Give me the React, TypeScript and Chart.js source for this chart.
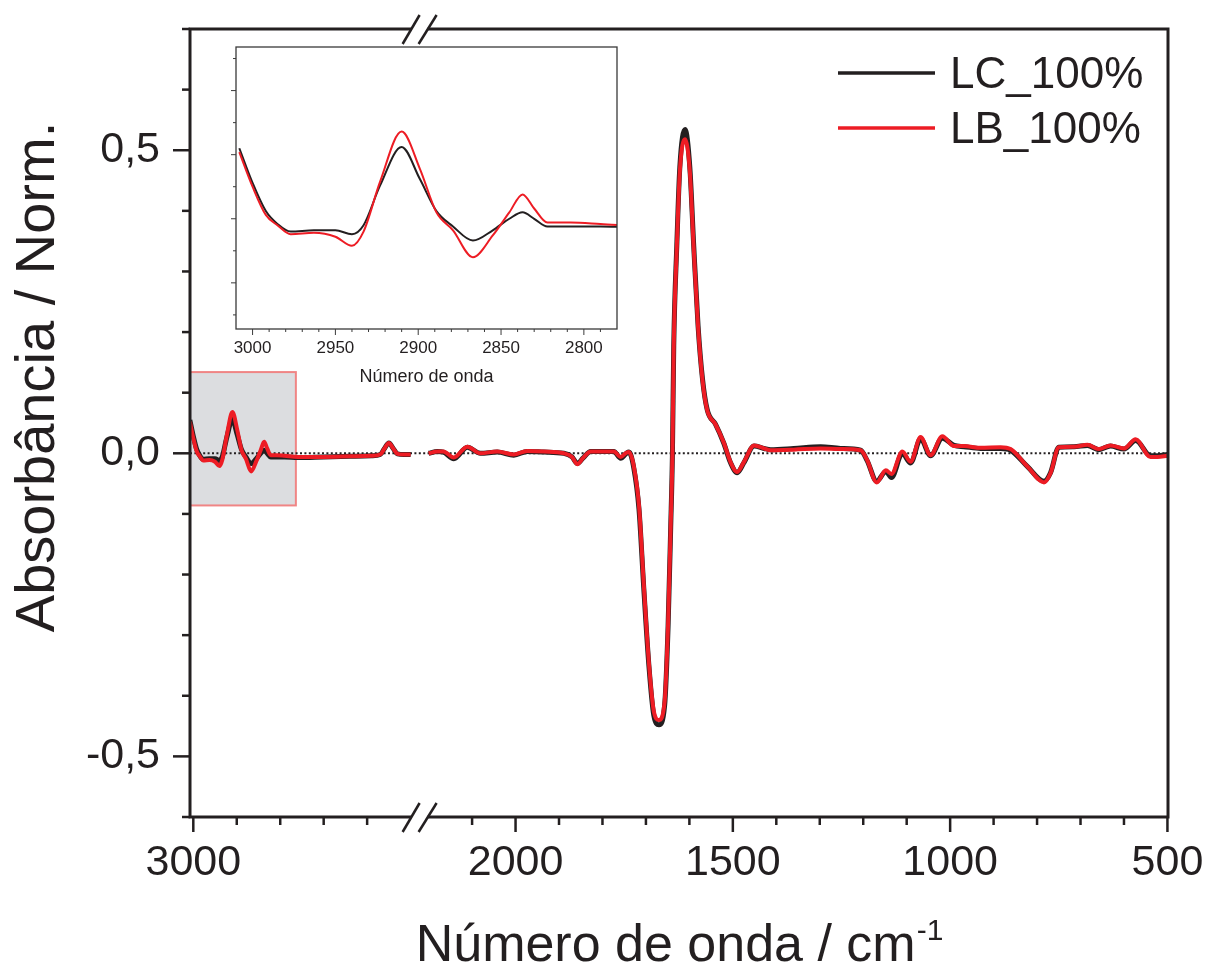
import React, { useEffect, useRef } from 'react';
import { Chart, registerables } from 'chart.js';

Chart.register(...registerables);

// ---------------- data (wavenumber in cm-1, absorbance normalised) ----------------
// high-wavenumber segment (left of the axis break)
const wnLeft = [3008, 3000, 2992, 2985, 2977, 2963, 2950, 2940, 2933, 2923, 2910, 2899, 2889, 2879, 2867, 2855, 2845, 2837, 2830, 2822, 2808, 2790, 2760, 2700, 2640, 2590, 2570, 2560, 2550, 2540, 2530, 2515, 2500];
const lcLeft = [0.055, 0.028, 0.006, -0.004, -0.010, -0.009, -0.009, -0.012, -0.005, 0.026, 0.056, 0.031, 0.006, -0.006, -0.017, -0.009, 0.0, 0.005, 0.0, -0.006, -0.006, -0.006, -0.007, -0.006, -0.005, -0.004, -0.002, 0.008, 0.017, 0.008, -0.001, -0.002, -0.002];
const lbLeft = [0.052, 0.025, 0.003, -0.005, -0.012, -0.011, -0.014, -0.021, -0.010, 0.029, 0.068, 0.039, 0.005, -0.009, -0.030, -0.013, 0.005, 0.019, 0.008, -0.003, -0.003, -0.004, -0.006, -0.006, -0.005, -0.004, -0.002, 0.008, 0.017, 0.008, -0.001, -0.002, -0.002];

// low-wavenumber segment (right of the axis break)
const wnRight = [2200, 2180, 2166, 2142, 2111, 2081, 2042, 2004, 1973, 1935, 1889, 1870, 1858, 1845, 1827, 1774, 1758, 1745, 1739, 1728, 1716, 1705, 1693, 1682, 1670, 1657, 1649, 1643, 1639, 1636, 1629, 1622, 1610, 1599, 1590, 1580, 1570, 1559, 1540, 1521, 1505, 1490, 1475, 1451, 1428, 1413, 1360, 1298, 1252, 1206, 1191, 1169, 1148, 1135, 1110, 1091, 1068, 1045, 1018, 991, 968, 930, 884, 861, 822, 784, 769, 750, 715, 684, 658, 631, 600, 573, 539, 523, 500];
const lcRight = [0, 0.003, 0.002, -0.009, 0.010, 0, 0.002, -0.003, 0.003, 0.002, 0, -0.006, -0.017, -0.008, 0.003, 0.003, -0.008, 0, 0.002, -0.024, -0.092, -0.222, -0.352, -0.432, -0.448, -0.416, -0.285, -0.122, 0, 0.177, 0.342, 0.472, 0.534, 0.472, 0.342, 0.21, 0.124, 0.072, 0.048, 0.017, -0.016, -0.032, -0.016, 0.012, 0.008, 0.006, 0.008, 0.011, 0.008, 0.005, -0.012, -0.046, -0.030, -0.040, 0, -0.016, 0.024, -0.004, 0.025, 0.013, 0.011, 0.008, 0.008, 0.005, -0.022, -0.046, -0.032, 0.010, 0.011, 0.013, 0.006, 0.012, 0.007, 0.021, -0.004, -0.004, -0.002];
const lbRight = [0, 0.003, 0.003, -0.007, 0.011, 0, 0.003, -0.002, 0.004, 0.003, 0, -0.006, -0.018, -0.008, 0.003, 0.003, -0.006, 0.001, 0.002, -0.021, -0.086, -0.216, -0.347, -0.425, -0.440, -0.41, -0.28, -0.119, 0, 0.175, 0.338, 0.465, 0.518, 0.465, 0.338, 0.208, 0.122, 0.071, 0.048, 0.018, -0.015, -0.031, -0.015, 0.013, 0.008, 0.005, 0.006, 0.008, 0.007, 0.005, -0.011, -0.048, -0.028, -0.034, 0.003, -0.014, 0.027, -0.003, 0.028, 0.012, 0.012, 0.009, 0.010, 0.007, -0.022, -0.048, -0.033, 0.010, 0.011, 0.014, 0.007, 0.013, 0.008, 0.023, -0.006, -0.006, -0.004];

const seriesNames = ['LC_100%', 'LB_100%'];
const seriesColors = ['#231f20', '#ed1c24'];

// axis break
const breakHigh = 2500;
const breakLow = 2200;
const breakGap = 41.5;

const xStartWn = 3007.6;
const xEndWn = 498.7;
const xMajorTicks = [3000, 2000, 1500, 1000, 500];
const xMinorTicks = [2900, 2800, 2700, 2600, 2100, 1900, 1800, 1700, 1600, 1400, 1300, 1200, 1100, 900, 800, 700, 600];
const yMin = -0.6;
const yMax = 0.7;
const yMajorTicks = [-0.5, 0, 0.5];
const yTickLabels = ['-0,5', '0,0', '0,5'];
const yMinorTicks = [-0.6, -0.4, -0.3, -0.2, -0.1, 0.1, 0.2, 0.3, 0.4, 0.6, 0.7];

const zoomBoxWn = [3008, 2764];
const zoomBoxAbs = [-0.086, 0.134];

// inset
const insetWnRange = [2780, 3010];
const insetAbsRange = [-0.086, 0.134];
const insetXMajor = [3000, 2950, 2900, 2850, 2800];
const insetXMinor = [2990, 2980, 2970, 2960, 2940, 2930, 2920, 2910, 2890, 2880, 2870, 2860, 2840, 2830, 2820, 2810, 2790];
const insetYMajor = [-0.05, 0, 0.05, 0.1];
const insetYMinor = [-0.075, -0.025, 0.025, 0.075, 0.125];

const xTitle = 'Número de onda / cm';
const xTitleSup = '-1';
const yTitle = 'Absorbância / Norm.';
const insetTitle = 'Número de onda';

const FONT = '"Liberation Sans", Arial, Helvetica, sans-serif';
const INK = '#231f20';

function toU(w: number) {
  return w >= breakHigh ? 3000 - w : 3000 - w - (breakHigh - breakLow) + breakGap;
}
function fromU(u: number) {
  const uHigh = 3000 - breakHigh;
  return u <= uHigh + 10 ? 3000 - u : 3000 - (breakHigh - breakLow) + breakGap - u;
}

function buildMain(left: number[], right: number[]) {
  const pts: any[] = wnLeft.map((w, i) => ({ x: toU(w), y: left[i] }));
  pts.push({ x: (toU(breakHigh) + toU(breakLow)) / 2, y: null });
  wnRight.forEach((w, i) => pts.push({ x: toU(w), y: right[i] }));
  return pts;
}

function line(ctx: CanvasRenderingContext2D, x1: number, y1: number, x2: number, y2: number) {
  ctx.beginPath();
  ctx.moveTo(x1, y1);
  ctx.lineTo(x2, y2);
  ctx.stroke();
}

function zeroPad(s: any) {
  s.paddingTop = 0;
  s.paddingBottom = 0;
  s.paddingLeft = 0;
  s.paddingRight = 0;
}

const mainDecor = {
  id: 'mainDecor',
  beforeDatasetsDraw(chart: any) {
    const { ctx, chartArea: a, scales } = chart;
    const x = scales.x;
    const y = scales.y;
    ctx.save();
    // zoom box
    const bx1 = Math.max(a.left, x.getPixelForValue(toU(zoomBoxWn[0])));
    const bx2 = x.getPixelForValue(toU(zoomBoxWn[1]));
    const by1 = y.getPixelForValue(zoomBoxAbs[1]);
    const by2 = y.getPixelForValue(zoomBoxAbs[0]);
    ctx.fillStyle = '#dcdde0';
    ctx.fillRect(bx1, by1, bx2 - bx1, by2 - by1);
    ctx.strokeStyle = '#f08585';
    ctx.lineWidth = 2;
    ctx.strokeRect(bx1, by1, bx2 - bx1, by2 - by1);
    // zero line
    const y0 = y.getPixelForValue(0);
    ctx.strokeStyle = INK;
    ctx.lineWidth = 2;
    ctx.setLineDash([2, 2.4]);
    line(ctx, a.left, y0, a.right, y0);
    ctx.restore();
  },
  afterDraw(chart: any) {
    const { ctx, chartArea: a, scales } = chart;
    const x = scales.x;
    const y = scales.y;
    ctx.save();
    ctx.strokeStyle = INK;
    ctx.lineCap = 'butt';
    ctx.lineWidth = 3;
    ctx.strokeRect(a.left, a.top, a.right - a.left, a.bottom - a.top);
    ctx.lineWidth = 2.5;
    for (const w of xMajorTicks) {
      const px = x.getPixelForValue(toU(w));
      line(ctx, px, a.bottom, px, a.bottom + 15);
    }
    for (const w of xMinorTicks) {
      const px = x.getPixelForValue(toU(w));
      line(ctx, px, a.bottom, px, a.bottom + 8);
    }
    for (const v of yMajorTicks) {
      const py = y.getPixelForValue(v);
      line(ctx, a.left - 17, py, a.left, py);
    }
    for (const v of yMinorTicks) {
      const py = y.getPixelForValue(v);
      line(ctx, a.left - 8, py, a.left, py);
    }
    // axis break marks
    const c = x.getPixelForValue((toU(breakHigh) + toU(breakLow)) / 2);
    for (const yy of [a.top, a.bottom]) {
      ctx.fillStyle = '#ffffff';
      ctx.fillRect(c - 8, yy - 3, 16, 6);
      ctx.lineWidth = 2.5;
      line(ctx, c - 17, yy + 15, c, yy - 14);
      line(ctx, c - 1, yy + 15, c + 17, yy - 14);
    }
    // legend
    const legendY = [73, 128];
    ctx.font = `44px ${FONT}`;
    ctx.textAlign = 'left';
    ctx.textBaseline = 'alphabetic';
    seriesNames.forEach((name, i) => {
      ctx.strokeStyle = seriesColors[i];
      ctx.lineWidth = 3.5;
      line(ctx, 838, legendY[i], 935, legendY[i]);
      ctx.fillStyle = INK;
      ctx.fillText(name, 950, legendY[i] + 15);
    });
    // y title
    ctx.fillStyle = INK;
    ctx.save();
    ctx.font = `56px ${FONT}`;
    ctx.textAlign = 'center';
    ctx.translate(54, 377);
    ctx.rotate(-Math.PI / 2);
    ctx.fillText(yTitle, 0, 0);
    ctx.restore();
    // x title with superscript
    ctx.font = `52px ${FONT}`;
    const w1 = ctx.measureText(xTitle).width;
    ctx.font = `30px ${FONT}`;
    const w2 = ctx.measureText(xTitleSup).width;
    const start = (a.left + a.right) / 2 - (w1 + w2) / 2;
    ctx.textAlign = 'left';
    ctx.font = `52px ${FONT}`;
    ctx.fillText(xTitle, start, 961);
    ctx.font = `30px ${FONT}`;
    ctx.fillText(xTitleSup, start + w1 + 1, 940);
    ctx.restore();
  },
};

const insetDecor = {
  id: 'insetDecor',
  afterDraw(chart: any) {
    const { ctx, chartArea: a, scales } = chart;
    const x = scales.x;
    const y = scales.y;
    ctx.save();
    ctx.strokeStyle = '#3a3a3a';
    ctx.lineWidth = 1.3;
    ctx.strokeRect(a.left, a.top, a.right - a.left, a.bottom - a.top);
    ctx.lineWidth = 1;
    for (const w of insetXMajor) {
      const px = x.getPixelForValue(w);
      line(ctx, px, a.bottom, px, a.bottom + 6);
    }
    for (const w of insetXMinor) {
      const px = x.getPixelForValue(w);
      line(ctx, px, a.bottom, px, a.bottom + 3);
    }
    for (const v of insetYMajor) {
      const py = y.getPixelForValue(v);
      line(ctx, a.left - 5, py, a.left, py);
    }
    for (const v of insetYMinor) {
      const py = y.getPixelForValue(v);
      line(ctx, a.left - 3, py, a.left, py);
    }
    ctx.fillStyle = INK;
    ctx.font = `18px ${FONT}`;
    ctx.textAlign = 'center';
    ctx.textBaseline = 'alphabetic';
    ctx.fillText(insetTitle, (a.left + a.right) / 2, a.bottom + 53);
    ctx.restore();
  },
};

export default function App() {
  const mainRef = useRef<HTMLCanvasElement | null>(null);
  const insetRef = useRef<HTMLCanvasElement | null>(null);

  useEffect(() => {
    const common = { pointRadius: 0, fill: false, cubicInterpolationMode: 'monotone' as const, spanGaps: false };
    const main = new Chart(mainRef.current as HTMLCanvasElement, {
      type: 'line',
      data: {
        datasets: [
          { label: seriesNames[0], data: buildMain(lcLeft, lcRight), borderColor: seriesColors[0], borderWidth: 5, order: 1, ...common },
          { label: seriesNames[1], data: buildMain(lbLeft, lbRight), borderColor: seriesColors[1], borderWidth: 4, order: 0, ...common },
        ],
      },
      options: {
        animation: false,
        responsive: false,
        maintainAspectRatio: false,
        events: [],
        layout: { padding: { top: 29, right: 38, left: 0, bottom: 0 } },
        plugins: { legend: { display: false }, tooltip: { enabled: false } },
        scales: {
          x: {
            type: 'linear',
            min: toU(xStartWn),
            max: toU(xEndWn),
            grid: { display: false, drawTicks: false },
            border: { display: false },
            afterBuildTicks: (s: any) => {
              s.ticks = [...xMajorTicks, ...xMinorTicks].map((w) => ({ value: toU(w) }));
            },
            afterFit: (s: any) => {
              s.height = 151;
              zeroPad(s);
            },
            ticks: {
              autoSkip: false,
              maxRotation: 0,
              minRotation: 0,
              padding: 20,
              color: INK,
              font: { family: FONT, size: 43 },
              callback: (v: any) => {
                const w = Math.round(fromU(Number(v)));
                return xMajorTicks.includes(w) ? String(w) : '';
              },
            },
          },
          y: {
            type: 'linear',
            min: yMin,
            max: yMax,
            grid: { display: false, drawTicks: false },
            border: { display: false },
            afterBuildTicks: (s: any) => {
              s.ticks = [...yMajorTicks, ...yMinorTicks].map((v) => ({ value: v }));
            },
            afterFit: (s: any) => {
              s.width = 190;
              zeroPad(s);
            },
            ticks: {
              autoSkip: false,
              padding: 30,
              color: INK,
              font: { family: FONT, size: 43 },
              callback: (v: any) => {
                const i = yMajorTicks.findIndex((t) => Math.abs(t - Number(v)) < 1e-6);
                return i >= 0 ? yTickLabels[i] : '';
              },
            },
          },
        },
      },
      plugins: [mainDecor],
    } as any);

    const inset = new Chart(insetRef.current as HTMLCanvasElement, {
      type: 'line',
      data: {
        datasets: [
          { label: seriesNames[0], data: wnLeft.map((w, i) => ({ x: w, y: lcLeft[i] })), borderColor: seriesColors[0], borderWidth: 2, order: 1, ...common },
          { label: seriesNames[1], data: wnLeft.map((w, i) => ({ x: w, y: lbLeft[i] })), borderColor: seriesColors[1], borderWidth: 2, order: 0, ...common },
        ],
      },
      options: {
        animation: false,
        responsive: false,
        maintainAspectRatio: false,
        events: [],
        layout: { padding: { top: 7, right: 23, left: 0, bottom: 0 } },
        plugins: { legend: { display: false }, tooltip: { enabled: false } },
        scales: {
          x: {
            type: 'linear',
            reverse: true,
            min: insetWnRange[0],
            max: insetWnRange[1],
            grid: { display: false, drawTicks: false },
            border: { display: false },
            afterBuildTicks: (s: any) => {
              s.ticks = [...insetXMajor, ...insetXMinor].map((w) => ({ value: w }));
            },
            afterFit: (s: any) => {
              s.height = 71;
              zeroPad(s);
            },
            ticks: {
              autoSkip: false,
              maxRotation: 0,
              minRotation: 0,
              padding: 9,
              color: INK,
              font: { family: FONT, size: 17 },
              callback: (v: any) => (insetXMajor.includes(Math.round(Number(v))) ? String(Math.round(Number(v))) : ''),
            },
          },
          y: {
            type: 'linear',
            min: insetAbsRange[0],
            max: insetAbsRange[1],
            grid: { display: false, drawTicks: false },
            border: { display: false },
            ticks: { display: false },
            afterFit: (s: any) => {
              s.width = 36;
              zeroPad(s);
            },
          },
        },
      },
      plugins: [insetDecor],
    } as any);

    return () => {
      main.destroy();
      inset.destroy();
    };
  }, []);

  return (
    <div style={{ position: 'absolute', left: 0, top: 0, width: 1206, height: 968, background: '#ffffff' }}>
      <canvas ref={mainRef} width={1206} height={968} style={{ position: 'absolute', left: 0, top: 0, display: 'block' }} />
      <canvas ref={insetRef} width={440} height={360} style={{ position: 'absolute', left: 200, top: 40, display: 'block' }} />
    </div>
  );
}
